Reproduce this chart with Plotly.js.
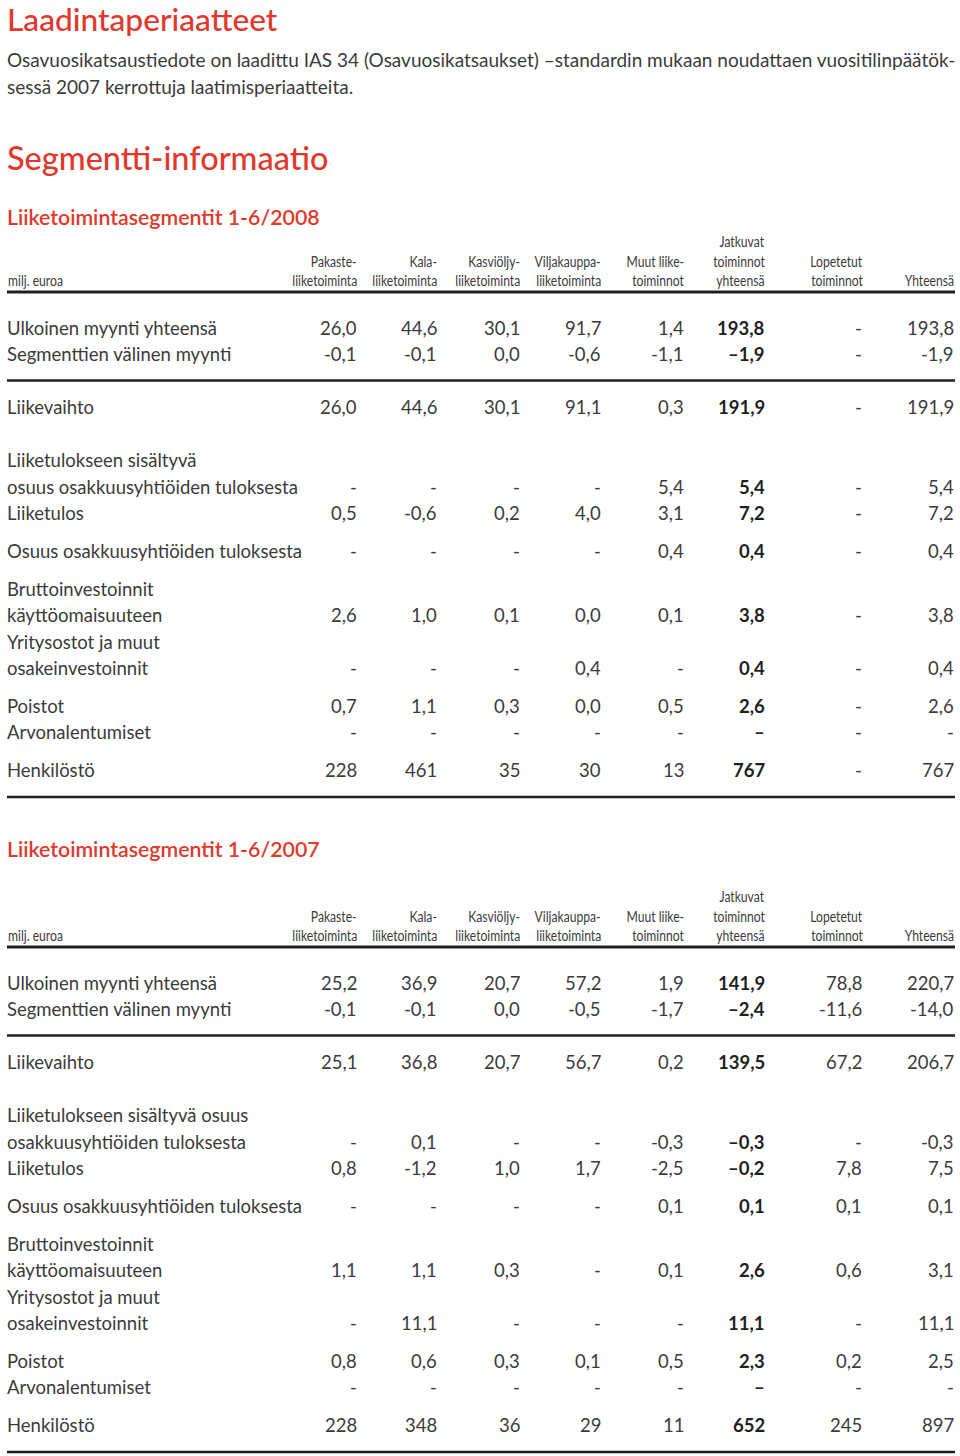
<!DOCTYPE html>
<html>
<head>
<meta charset="utf-8">
<script src="https://cdn.plot.ly/plotly-3.0.1.min.js"></script>
<style>
  html, body { margin: 0; padding: 0; background: #ffffff; }
  #chart { width: 960px; height: 1456px; }
</style>
</head>
<body>
<div id="chart"></div>
<script>
// ---------------- DATA ----------------
const pageTitle = "Laadintaperiaatteet";
const introLines = [
  "Osavuosikatsaustiedote on laadittu IAS 34 (Osavuosikatsaukset) –standardin mukaan noudattaen vuositilinpäätök-",
  "sessä 2007 kerrottuja laatimisperiaatteita."
];
const sectionTitle = "Segmentti-informaatio";
const unitLabel = "milj. euroa";

const columnHeaders = [
  ["Pakaste-", "liiketoiminta"],
  ["Kala-", "liiketoiminta"],
  ["Kasviöljy-", "liiketoiminta"],
  ["Viljakauppa-", "liiketoiminta"],
  ["Muut liike-", "toiminnot"],
  ["Jatkuvat", "toiminnot", "yhteensä"],
  ["Lopetetut", "toiminnot"],
  ["Yhteensä"]
];

// --- 1-6/2008 ---
const title2008 = "Liiketoimintasegmentit 1-6/2008";
const rowLabels2008 = [
  "Ulkoinen myynti yhteensä",
  "Segmenttien välinen myynti",
  "Liikevaihto",
  "Liiketulokseen sisältyvä",
  "osuus osakkuusyhtiöiden tuloksesta",
  "Liiketulos",
  "Osuus osakkuusyhtiöiden tuloksesta",
  "Bruttoinvestoinnit",
  "käyttöomaisuuteen",
  "Yritysostot ja muut",
  "osakeinvestoinnit",
  "Poistot",
  "Arvonalentumiset",
  "Henkilöstö"
];
// rows that carry values (index into rowLabels)
const valueRows2008 = [0, 1, 2, 4, 5, 6, 8, 10, 11, 12, 13];
const pakaste2008     = [26.0, -0.1, 26.0, null, 0.5, null, 2.6, null, 0.7, null, 228];
const kala2008        = [44.6, -0.1, 44.6, null, -0.6, null, 1.0, null, 1.1, null, 461];
const kasvioljy2008   = [30.1, 0.0, 30.1, null, 0.2, null, 0.1, null, 0.3, null, 35];
const viljakauppa2008 = [91.7, -0.6, 91.1, null, 4.0, null, 0.0, 0.4, 0.0, null, 30];
const muut2008        = [1.4, -1.1, 0.3, 5.4, 3.1, 0.4, 0.1, null, 0.5, null, 13];
const jatkuvat2008    = [193.8, -1.9, 191.9, 5.4, 7.2, 0.4, 3.8, 0.4, 2.6, null, 767];
const lopetetut2008   = [null, null, null, null, null, null, null, null, null, null, null];
const yhteensa2008    = [193.8, -1.9, 191.9, 5.4, 7.2, 0.4, 3.8, 0.4, 2.6, null, 767];

// --- 1-6/2007 ---
const title2007 = "Liiketoimintasegmentit 1-6/2007";
const rowLabels2007 = [
  "Ulkoinen myynti yhteensä",
  "Segmenttien välinen myynti",
  "Liikevaihto",
  "Liiketulokseen sisältyvä osuus",
  "osakkuusyhtiöiden tuloksesta",
  "Liiketulos",
  "Osuus osakkuusyhtiöiden tuloksesta",
  "Bruttoinvestoinnit",
  "käyttöomaisuuteen",
  "Yritysostot ja muut",
  "osakeinvestoinnit",
  "Poistot",
  "Arvonalentumiset",
  "Henkilöstö"
];
const valueRows2007 = [0, 1, 2, 4, 5, 6, 8, 10, 11, 12, 13];
const pakaste2007     = [25.2, -0.1, 25.1, null, 0.8, null, 1.1, null, 0.8, null, 228];
const kala2007        = [36.9, -0.1, 36.8, 0.1, -1.2, null, 1.1, 11.1, 0.6, null, 348];
const kasvioljy2007   = [20.7, 0.0, 20.7, null, 1.0, null, 0.3, null, 0.3, null, 36];
const viljakauppa2007 = [57.2, -0.5, 56.7, null, 1.7, null, null, null, 0.1, null, 29];
const muut2007        = [1.9, -1.7, 0.2, -0.3, -2.5, 0.1, 0.1, null, 0.5, null, 11];
const jatkuvat2007    = [141.9, -2.4, 139.5, -0.3, -0.2, 0.1, 2.6, 11.1, 2.3, null, 652];
const lopetetut2007   = [78.8, -11.6, 67.2, null, 7.8, 0.1, 0.6, null, 0.2, null, 245];
const yhteensa2007    = [220.7, -14.0, 206.7, -0.3, 7.5, 0.1, 3.1, 11.1, 2.5, null, 897];

// ---------------- LAYOUT / STYLE ----------------
const RED = "#e2382c";
const TXT = "#3b3b3b";
const DARK = "#1f1f1f";
const BODY_FONT = "Lato, 'Noto Sans', sans-serif";
const HEAD_FONT = "Lato, 'Noto Sans', sans-serif";
const HEAD_SQUEEZE = 0.81;   // horizontal condensing of the small column-header text

const W = 960, H = 1456;
const LEFT = 7, RIGHT = 955;
const colRight = [358, 438, 521, 602, 685, 766, 863, 955];
const boldCol = 5;
// vertical step kinds between consecutive rows
const STEP = { n: 26.4, g: 37.8, L: 53 };
const rowSteps = [null, "n", "L", "L", "n", "n", "g", "g", "n", "n", "n", "g", "n", "g"];

const annotations = [];
const shapes = [];
const condensed = [];   // [annotation index, transform origin]

function addText(x, y, text, opts) {
  annotations.push(Object.assign({
    x: x, y: y, xref: "x", yref: "y", text: text, showarrow: false,
    xanchor: "left", yanchor: "middle", borderpad: 0,
    font: { family: BODY_FONT, size: 18.5, color: TXT }
  }, opts || {}));
  return annotations.length - 1;
}
function addLine(y, width) {
  shapes.push({ type: "line", xref: "x", yref: "y", x0: LEFT, x1: RIGHT, y0: y, y1: y,
    line: { color: DARK, width: width } });
}
function fmt(v, isInt, bold) {
  if (v === null) return bold ? "–" : "-";
  let s = isInt ? String(Math.round(Math.abs(v))) : Math.abs(v).toFixed(1).replace(".", ",");
  if (v < 0) s = (bold ? "–" : "-") + s;
  return s;
}

// page header
addText(LEFT - 1, 19, pageTitle, { font: { family: BODY_FONT, size: 31.7, color: RED, weight: 500 } });
addText(LEFT - 1, 59, introLines[0], { font: { family: BODY_FONT, size: 19, color: TXT } });
addText(LEFT - 1, 86, introLines[1], { font: { family: BODY_FONT, size: 19, color: TXT } });
addText(LEFT - 1, 157, sectionTitle, { font: { family: BODY_FONT, size: 32.5, color: RED, weight: 500 } });

function drawTable(cfg) {
  const base = cfg.firstRowY;
  // heading
  addText(LEFT - 1, cfg.headingY, cfg.title, { font: { family: BODY_FONT, size: 21.3, color: RED, weight: 600 } });
  // column headers
  const lastHeaderY = base - 48;
  condensed.push([addText(LEFT, lastHeaderY, unitLabel, { font: { family: HEAD_FONT, size: 15, color: TXT } }), "left"]);
  columnHeaders.forEach((lines, c) => {
    lines.forEach((ln, i) => {
      const y = lastHeaderY - (lines.length - 1 - i) * 19.5;
      condensed.push([addText(colRight[c] + (c === 6 ? 1 : 0), y, ln, { xanchor: "right",
        font: { family: HEAD_FONT, size: 15, color: TXT } }), "right"]);
    });
  });
  addLine(base - 36, 3);
  // rows
  const ys = [];
  cfg.labels.forEach((lab, i) => {
    const y = i === 0 ? base : ys[i - 1] + STEP[rowSteps[i]];
    ys.push(y);
    addText(LEFT - 1, y, lab);
  });
  addLine(ys[1] + 26, 2.5);
  addLine(ys[ys.length - 1] + 27, 2.5);
  // values
  cfg.columns.forEach((col, c) => {
    col.forEach((v, k) => {
      const r = cfg.valueRows[k];
      const isInt = r === cfg.labels.length - 1;
      const bold = c === boldCol;
      addText(colRight[c], ys[r], fmt(v, isInt, bold), {
        xanchor: "right",
        font: { family: BODY_FONT, size: 18.5, color: bold ? DARK : TXT, weight: bold ? 700 : 400 }
      });
    });
  });
}

drawTable({
  title: title2008, headingY: 217, firstRowY: 328,
  labels: rowLabels2008, valueRows: valueRows2008,
  columns: [pakaste2008, kala2008, kasvioljy2008, viljakauppa2008, muut2008, jatkuvat2008, lopetetut2008, yhteensa2008]
});
drawTable({
  title: title2007, headingY: 849, firstRowY: 983,
  labels: rowLabels2007, valueRows: valueRows2007,
  columns: [pakaste2007, kala2007, kasvioljy2007, viljakauppa2007, muut2007, jatkuvat2007, lopetetut2007, yhteensa2007]
});

const layout = {
  width: W, height: H,
  margin: { l: 0, r: 0, t: 0, b: 0, pad: 0 },
  paper_bgcolor: "#ffffff", plot_bgcolor: "#ffffff",
  showlegend: false,
  xaxis: { range: [0, W], visible: false, fixedrange: true },
  yaxis: { range: [H, 0], visible: false, fixedrange: true },
  annotations: annotations,
  shapes: shapes
};
Plotly.newPlot("chart", [], layout, { staticPlot: true, displayModeBar: false }).then(function (gd) {
  // condense the narrow column-header labels horizontally, keeping their anchored edge in place
  condensed.forEach(function (pair) {
    const g = gd.querySelector('g.annotation[data-index="' + pair[0] + '"] text.annotation-text');
    if (!g) return;
    g.style.transformBox = "fill-box";
    g.style.transformOrigin = pair[1] + " center";
    g.style.transform = "scaleX(" + HEAD_SQUEEZE + ")";
  });
});
</script>
</body>
</html>
